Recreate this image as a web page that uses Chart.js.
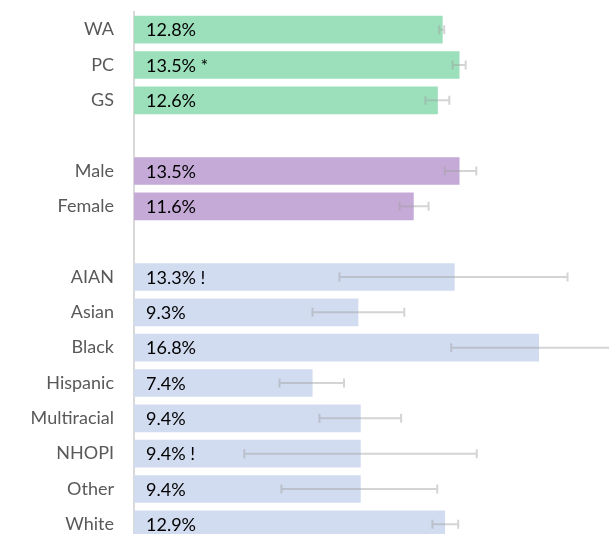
<!DOCTYPE html>
<html>
<head>
<meta charset="utf-8">
<script src="https://cdn.jsdelivr.net/npm/chart.js@4.4.0/dist/chart.umd.min.js"></script>
<style>
  html, body { margin: 0; padding: 0; background: #fff; overflow: hidden; }
  #wrap { width: 609px; height: 542px; position: relative; }
</style>
</head>
<body>
<div id="wrap"><canvas id="rateChart"></canvas></div>
<script>
// categories (blank entries are group spacers)
var categories = ['WA', 'PC', 'GS', '', 'Male', 'Female', '', 'AIAN', 'Asian', 'Black', 'Hispanic', 'Multiracial', 'NHOPI', 'Other', 'White'];
var values = [12.8, 13.5, 12.6, null, 13.5, 11.6, null, 13.3, 9.3, 16.8, 7.4, 9.4, 9.4, 9.4, 12.9];
var lowerCI = [12.67, 13.23, 12.10, null, 12.90, 11.03, null, 8.53, 7.41, 13.17, 6.04, 7.70, 4.58, 6.12, 12.39];
var upperCI = [12.88, 13.77, 13.09, null, 14.21, 12.23, null, 18.00, 11.22, 20.40, 8.72, 11.09, 14.23, 12.59, 13.46];
var flags = ['', '*', '', '', '', '', '', '!', '', '', '', '', '!', '', ''];
var groups = ['region', 'region', 'region', '', 'sex', 'sex', '', 'race', 'race', 'race', 'race', 'race', 'race', 'race', 'race'];

var groupColors = { region: '#9bdfbb', sex: '#c5aad8', race: '#d2dcf0', '': 'rgba(0,0,0,0)' };

(function () {
    "use strict";

    // error bars drawn through the scales
    var errorBars = {
        id: 'errorBars',
        afterDatasetsDraw: function (chart) {
            var ctx = chart.ctx;
            var x = chart.scales.x;
            var y = chart.scales.y;
            ctx.save();
            ctx.strokeStyle = 'rgba(160,160,160,0.45)';
            ctx.lineWidth = 2;
            for (var i = 0; i < values.length; i++) {
                if (lowerCI[i] === null) continue;
                var yc = y.getPixelForValue(i);
                var x0 = x.getPixelForValue(lowerCI[i]);
                var x1 = x.getPixelForValue(upperCI[i]);
                ctx.beginPath();
                ctx.moveTo(x0, yc);
                ctx.lineTo(x1, yc);
                ctx.moveTo(x0, yc - 4.5);
                ctx.lineTo(x0, yc + 4.5);
                ctx.moveTo(x1, yc - 4.5);
                ctx.lineTo(x1, yc + 4.5);
                ctx.stroke();
            }
            ctx.restore();
        }
    };

    // value labels inside the bars
    var valueLabels = {
        id: 'valueLabels',
        afterDatasetsDraw: function (chart) {
            var ctx = chart.ctx;
            var x = chart.scales.x;
            var y = chart.scales.y;
            ctx.save();
            ctx.fillStyle = '#000';
            ctx.font = '18px Lato';
            ctx.textBaseline = 'middle';
            ctx.textAlign = 'left';
            for (var i = 0; i < values.length; i++) {
                if (values[i] === null) continue;
                var txt = values[i].toFixed(1) + '%' + (flags[i] ? ' ' + flags[i] : '');
                ctx.fillText(txt, x.getPixelForValue(0) + 12, y.getPixelForValue(i) + 1);
            }
            ctx.restore();
        }
    };

    var ctx = document.getElementById('rateChart').getContext('2d');
    new Chart(ctx, {
        type: 'bar',
        data: {
            labels: categories,
            datasets: [{
                data: values,
                backgroundColor: groups.map(function (g) { return groupColors[g]; }),
                borderWidth: 0,
                barThickness: 27
            }]
        },
        options: {
            indexAxis: 'y',
            responsive: true,
            maintainAspectRatio: false,
            animation: false,
            layout: { padding: { top: 12, right: 0, bottom: 0, left: 0 } },
            scales: {
                x: {
                    display: false,
                    min: 0,
                    max: 19.72
                },
                y: {
                    grid: { display: false, drawTicks: false },
                    border: { display: true, color: '#d9d9d9', width: 2 },
                    ticks: {
                        color: '#595959',
                        font: { family: 'Lato', size: 18 },
                        padding: 20
                    },
                    afterFit: function (scale) {
                        scale.width = 134;
                        scale.paddingTop = 0;
                        scale.paddingBottom = 0;
                    }
                }
            },
            plugins: {
                legend: { display: false },
                tooltip: { enabled: false }
            }
        },
        plugins: [errorBars, valueLabels]
    });
})();
</script>
</body>
</html>
